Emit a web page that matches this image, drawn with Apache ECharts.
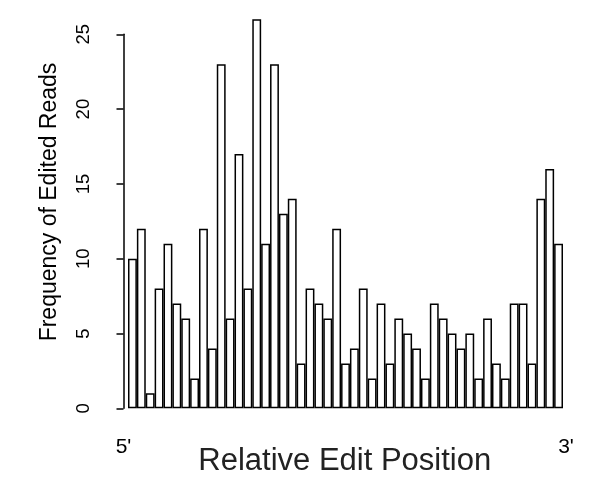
<!DOCTYPE HTML>
<html>
<head>
<meta charset="utf-8">
<title>Relative Edit Position</title>
<script src="https://cdn.jsdelivr.net/npm/echarts@6/dist/echarts.min.js"></script>
<style>
body{margin:0;background:#fff;}
#main{width:603px;height:494px;}
</style>
</head>
<body>
<div id="main"></div>
<script type="text/javascript">
// bin counts, 5' -> 3'
var binIndex = [];
var binCounts = [10,12,1,8,11,7,6,2,12,4,23,6,17,8,26,11,23,13,14,3,8,7,6,12,3,4,8,2,7,3,6,5,4,2,7,6,5,4,5,2,6,3,2,7,7,3,14,16,11];
for (var i = 0; i < binCounts.length; i++) binIndex.push(i + 1);
var yTicks = [0, 5, 10, 15, 20, 25];
var endLabels = ["5'", "3'"];

var myChart = echarts.init(document.getElementById('main'), null, {renderer: 'canvas'});
var fontFam = 'Liberation Sans, Arial, Helvetica, sans-serif';

var option = {
	animation: false,
	backgroundColor: '#fff',
	grid: [
		{left: 128, right: 40, top: 19.3, bottom: 85.7},   // bars (0..26)
		{left: 123.5, right: 37, top: 34.3, bottom: 85.7}, // axis (0..25)
		{left: 123.5, right: 37, top: 0, bottom: 90}       // only for the y title
	],
	xAxis: [
		{
			type: 'category', gridIndex: 0, data: binIndex,
			axisLine: {show: false}, axisTick: {show: false}, axisLabel: {show: false}
		},
		{
			type: 'value', gridIndex: 1, min: 0, max: 1, interval: 1,
			axisLine: {show: false}, axisTick: {show: false}, splitLine: {show: false},
			axisLabel: {
				color: '#000', fontSize: 21, fontFamily: fontFam, margin: 28,
				formatter: function (v) { return endLabels[v]; }
			},
			name: 'Relative Edit Position', nameLocation: 'middle', nameGap: 38,
			nameMoveOverlap: false,
			nameTextStyle: {color: '#222', fontSize: 31, fontFamily: fontFam}
		},
		{
			type: 'value', gridIndex: 2, min: 0, max: 1, show: false
		}
	],
	yAxis: [
		{
			type: 'value', gridIndex: 0, min: 0, max: 26,
			axisLine: {show: false}, axisTick: {show: false},
			axisLabel: {show: false}, splitLine: {show: false}
		},
		{
			type: 'value', gridIndex: 1, min: yTicks[0], max: yTicks[yTicks.length - 1], interval: 5,
			offset: 13.5,
			axisLine: {show: true, lineStyle: {color: '#000', width: 1.5}},
			axisTick: {show: true, length: 7, lineStyle: {color: '#000', width: 1.5}},
			axisLabel: {color: '#000', fontSize: 18.5, fontFamily: fontFam, rotate: 90, margin: 17},
			splitLine: {show: false}
		},
		{
			type: 'value', gridIndex: 2, min: 0, max: 1, offset: 13.5,
			axisLine: {show: false}, axisTick: {show: false},
			axisLabel: {show: false}, splitLine: {show: false},
			name: 'Frequency of Edited Reads', nameLocation: 'middle', nameGap: 49,
			nameMoveOverlap: false,
			nameTextStyle: {color: '#000', fontSize: 23, fontFamily: fontFam}
		}
	],
	series: [
		{
			type: 'bar', xAxisIndex: 0, yAxisIndex: 0,
			data: binCounts,
			barWidth: '100%',
			itemStyle: {color: '#fff', borderColor: '#000', borderWidth: 1.5}
		}
	]
};
myChart.setOption(option);
</script>
</body>
</html>
